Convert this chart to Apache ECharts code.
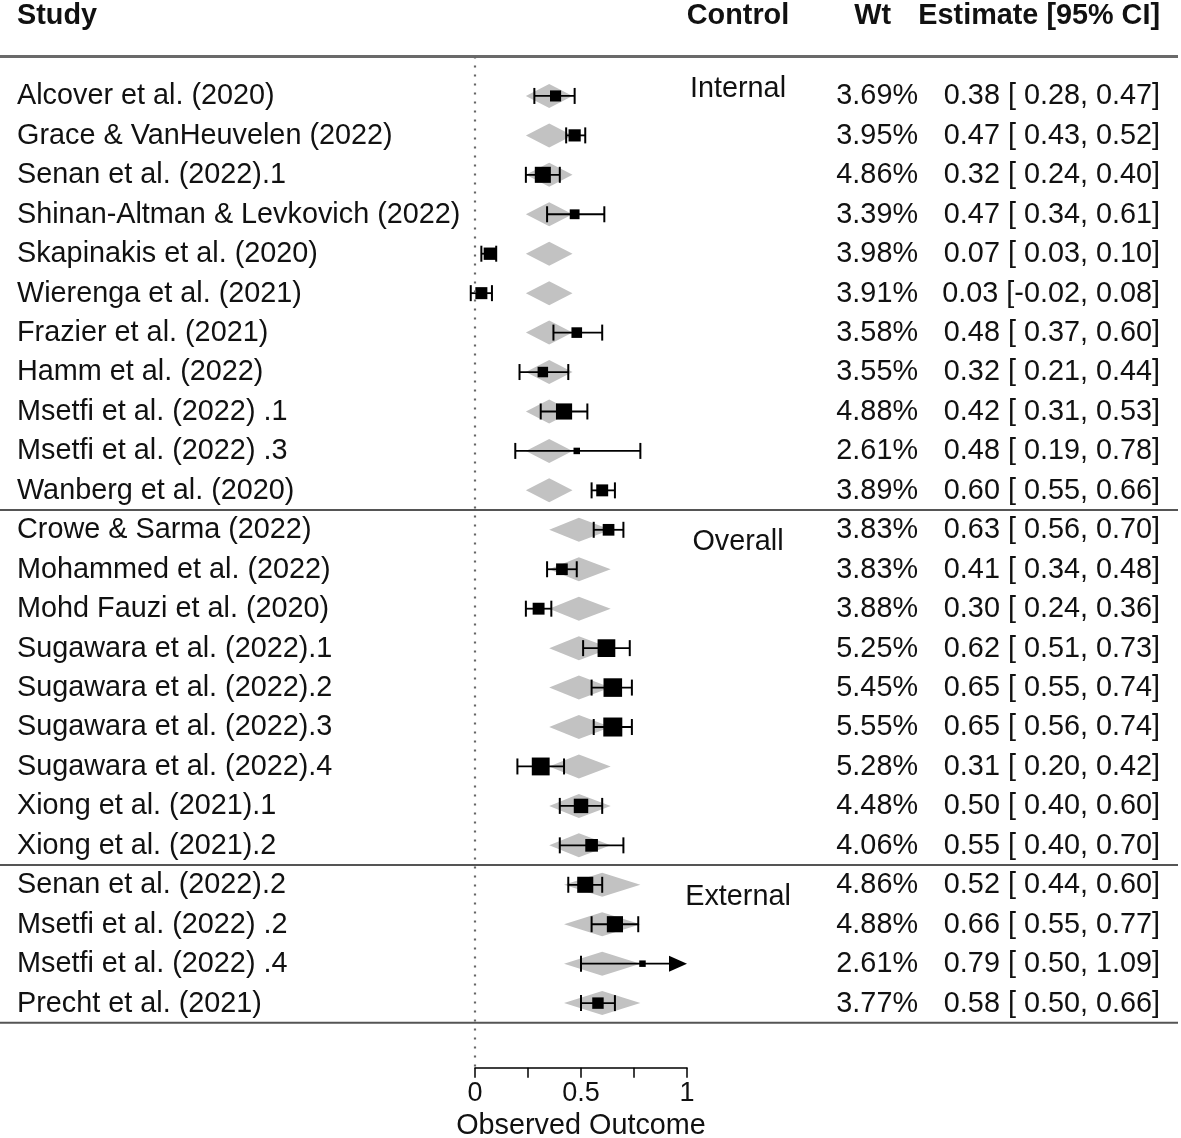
<!DOCTYPE html>
<html lang="en">
<head>
  <meta charset="UTF-8">
  <title>forest plot</title>
  <script src="https://cdn.jsdelivr.net/npm/echarts@6/dist/echarts.min.js"></script>
  <style>
    html, body { padding: 0; margin: 0; background: #fff; }
    #chart { width: 1181px; height: 1138px; }
  </style>
</head>
<body>
<div id="chart"></div>
<script>
  const studies = [
    'Alcover et al. (2020)', 'Grace & VanHeuvelen (2022)', 'Senan et al. (2022).1',
    'Shinan-Altman & Levkovich (2022)', 'Skapinakis et al. (2020)', 'Wierenga et al. (2021)',
    'Frazier et al. (2021)', 'Hamm et al. (2022)', 'Msetfi et al. (2022) .1',
    'Msetfi et al. (2022) .3', 'Wanberg et al. (2020)',
    'Crowe & Sarma (2022)', 'Mohammed et al. (2022)', 'Mohd Fauzi et al. (2020)',
    'Sugawara et al. (2022).1', 'Sugawara et al. (2022).2', 'Sugawara et al. (2022).3',
    'Sugawara et al. (2022).4', 'Xiong et al. (2021).1', 'Xiong et al. (2021).2',
    'Senan et al. (2022).2', 'Msetfi et al. (2022) .2', 'Msetfi et al. (2022) .4',
    'Precht et al. (2021)'
  ]
  const controls = ['Internal', 'Overall', 'External']
  const groupSizes = [11, 9, 4]
  const weights = [3.69, 3.95, 4.86, 3.39, 3.98, 3.91, 3.58, 3.55, 4.88, 2.61, 3.89,
    3.83, 3.83, 3.88, 5.25, 5.45, 5.55, 5.28, 4.48, 4.06,
    4.86, 4.88, 2.61, 3.77]
  const estimates = [0.38, 0.47, 0.32, 0.47, 0.07, 0.03, 0.48, 0.32, 0.42, 0.48, 0.60,
    0.63, 0.41, 0.30, 0.62, 0.65, 0.65, 0.31, 0.50, 0.55,
    0.52, 0.66, 0.79, 0.58]
  const lower = [0.28, 0.43, 0.24, 0.34, 0.03, -0.02, 0.37, 0.21, 0.31, 0.19, 0.55,
    0.56, 0.34, 0.24, 0.51, 0.55, 0.56, 0.20, 0.40, 0.40,
    0.44, 0.55, 0.50, 0.50]
  const upper = [0.47, 0.52, 0.40, 0.61, 0.10, 0.08, 0.60, 0.44, 0.53, 0.78, 0.66,
    0.70, 0.48, 0.36, 0.73, 0.74, 0.74, 0.42, 0.60, 0.70,
    0.60, 0.77, 1.09, 0.66]
  // grey diamond behind each row = pooled estimate of its control group
  const groupEst = [0.35, 0.49, 0.60]
  const groupLo = [0.24, 0.35, 0.42]
  const groupHi = [0.46, 0.64, 0.78]
  const xTickLabels = ['0', '', '0.5', '', '1']

  const FONT = '"Liberation Sans", Arial, Helvetica, sans-serif'
  const FS = 28.8
  const XMAX = 1
  const wMin = Math.min(...weights)
  const wMax = Math.max(...weights)

  // which control group each row belongs to
  const groupOf = []
  groupSizes.forEach((n, g) => { for (let k = 0; k < n; k++) groupOf.push(g) })
  const groupStart = groupSizes.map((n, g) => groupSizes.slice(0, g).reduce((a, b) => a + b, 0))

  // horizontal rules: top, between groups, bottom
  const rules = [-1]
  groupStart.forEach((s, g) => rules.push(s + groupSizes[g] - 0.5))

  const fmt = v => v.toFixed(2)
  const pad = (s, n) => ' '.repeat(Math.max(0, n - s.length)) + s

  const markData = studies.map((s, i) => [estimates[i], i, lower[i], upper[i], weights[i]])
  const labelShift = [-0.18, 0.32, 0.32]

  function renderMark(params, api) {
    const i = api.value(1)
    const g = groupOf[i]
    const c = api.coord([api.value(0), i])
    const y = c[1]
    const xl = api.coord([api.value(2), i])[0]
    const clipped = api.value(3) > XMAX
    const xh = api.coord([Math.min(api.value(3), XMAX), i])[0]
    const dL = api.coord([groupLo[g], i])[0]
    const dC = api.coord([groupEst[g], i])[0]
    const dH = api.coord([groupHi[g], i])[0]
    const children = [{
      type: 'polygon',
      shape: { points: [[dL, y], [dC, y - 12], [dH, y], [dC, y + 12]] },
      style: { fill: '#c2c2c2' }
    }]
    const lineEnd = clipped ? xh - 17 : xh
    const cap = 8
    children.push({ type: 'line', shape: { x1: xl, y1: y, x2: lineEnd, y2: y }, style: { stroke: '#000', lineWidth: 1.8 } })
    children.push({ type: 'line', shape: { x1: xl, y1: y - cap, x2: xl, y2: y + cap }, style: { stroke: '#000', lineWidth: 2 } })
    if (clipped) {
      children.push({ type: 'polygon', shape: { points: [[xh - 18, y - 8], [xh, y], [xh - 18, y + 8]] }, style: { fill: '#000' } })
    } else {
      children.push({ type: 'line', shape: { x1: xh, y1: y - cap, x2: xh, y2: y + cap }, style: { stroke: '#000', lineWidth: 2 } })
    }
    const sz = 6.5 + (api.value(4) - wMin) / (wMax - wMin) * 12.5
    children.push({ type: 'rect', shape: { x: c[0] - sz / 2, y: y - sz / 2, width: sz, height: sz }, style: { fill: '#000' } })
    return { type: 'group', children }
  }

  function renderTable(params, api) {
    const i = api.value(0)
    const y = api.coord([0, i])[1] + 0.5
    const base = { fill: '#111', font: FS + 'px ' + FONT, verticalAlign: 'middle' }
    const est = fmt(estimates[i]) + ' [' + pad(fmt(lower[i]), 5) + ', ' + fmt(upper[i]) + ']'
    return {
      type: 'group',
      children: [
        { type: 'text', style: Object.assign({ x: 17, y, text: studies[i], align: 'left' }, base) },
        { type: 'text', style: Object.assign({ x: 918, y, text: fmt(weights[i]) + '%', align: 'right' }, base) },
        { type: 'text', style: Object.assign({ x: 1160, y, text: est, align: 'right' }, base) }
      ]
    }
  }

  function renderControl(params, api) {
    const g = api.value(0)
    const y = api.coord([0, groupStart[g] + labelShift[g]])[1]
    return {
      type: 'text',
      style: { x: 738, y, text: controls[g], align: 'center', verticalAlign: 'middle', fill: '#111', font: FS + 'px ' + FONT }
    }
  }

  function renderRule(params, api) {
    const y = api.coord([0, api.value(0)])[1]
    const top = api.value(0) < 0
    return {
      type: 'line',
      shape: { x1: 0, y1: y, x2: 1178, y2: y },
      style: { stroke: top ? '#6a6a6a' : '#555', lineWidth: top ? 3 : 2 }
    }
  }

  const chart = echarts.init(document.getElementById('chart'))
  chart.setOption({
    backgroundColor: '#fff',
    animation: false,
    grid: { left: 475, right: 494, top: 56.5, bottom: 70.2, outerBoundsMode: 'none', containLabel: false },
    xAxis: {
      type: 'value', min: 0, max: XMAX, interval: 0.25,
      splitLine: { show: false },
      axisLine: { show: true, onZero: false, lineStyle: { color: '#000', width: 1.5 } },
      axisTick: { show: true, length: 10, lineStyle: { color: '#000', width: 1.5 } },
      axisLabel: {
        margin: 12, fontSize: 27, fontFamily: FONT, color: '#111',
        formatter: v => xTickLabels[Math.round(v / 0.25)]
      },
      name: 'Observed Outcome', nameLocation: 'middle', nameGap: 38,
      nameTextStyle: { fontSize: FS, fontFamily: FONT, color: '#111' }
    },
    yAxis: {
      type: 'value', inverse: true, min: -1, max: 24.64, show: false
    },
    graphic: [
      { type: 'text', x: 17, y: 16, style: { text: 'Study', font: 'bold ' + FS + 'px ' + FONT, fill: '#111', verticalAlign: 'middle' } },
      { type: 'text', x: 738, y: 16, style: { text: 'Control', font: 'bold ' + FS + 'px ' + FONT, fill: '#111', align: 'center', verticalAlign: 'middle' } },
      { type: 'text', x: 891, y: 16, style: { text: 'Wt', font: 'bold ' + FS + 'px ' + FONT, fill: '#111', align: 'right', verticalAlign: 'middle' } },
      { type: 'text', x: 1160, y: 16, style: { text: 'Estimate [95% CI]', font: 'bold ' + FS + 'px ' + FONT, fill: '#111', align: 'right', verticalAlign: 'middle' } }
    ],
    series: [
      {
        type: 'custom', name: 'rules', silent: true, z: 1,
        data: rules.map(r => [r]),
        encode: { y: 0 },
        renderItem: renderRule
      },
      {
        type: 'custom', name: 'studies', silent: true, z: 3,
        data: markData,
        encode: { x: 0, y: 1 },
        renderItem: renderMark,
        markLine: {
          silent: true, symbol: 'none', label: { show: false },
          lineStyle: { color: '#666', type: [2, 7], width: 2.2 },
          data: [{ xAxis: 0 }]
        }
      },
      {
        type: 'custom', name: 'table', silent: true, z: 4,
        data: studies.map((s, i) => [i]),
        encode: { y: 0 },
        renderItem: renderTable
      },
      {
        type: 'custom', name: 'controls', silent: true, z: 4,
        data: controls.map((c, g) => [g]),
        encode: { y: 0 },
        renderItem: renderControl
      }
    ]
  })
</script>
</body>
</html>
